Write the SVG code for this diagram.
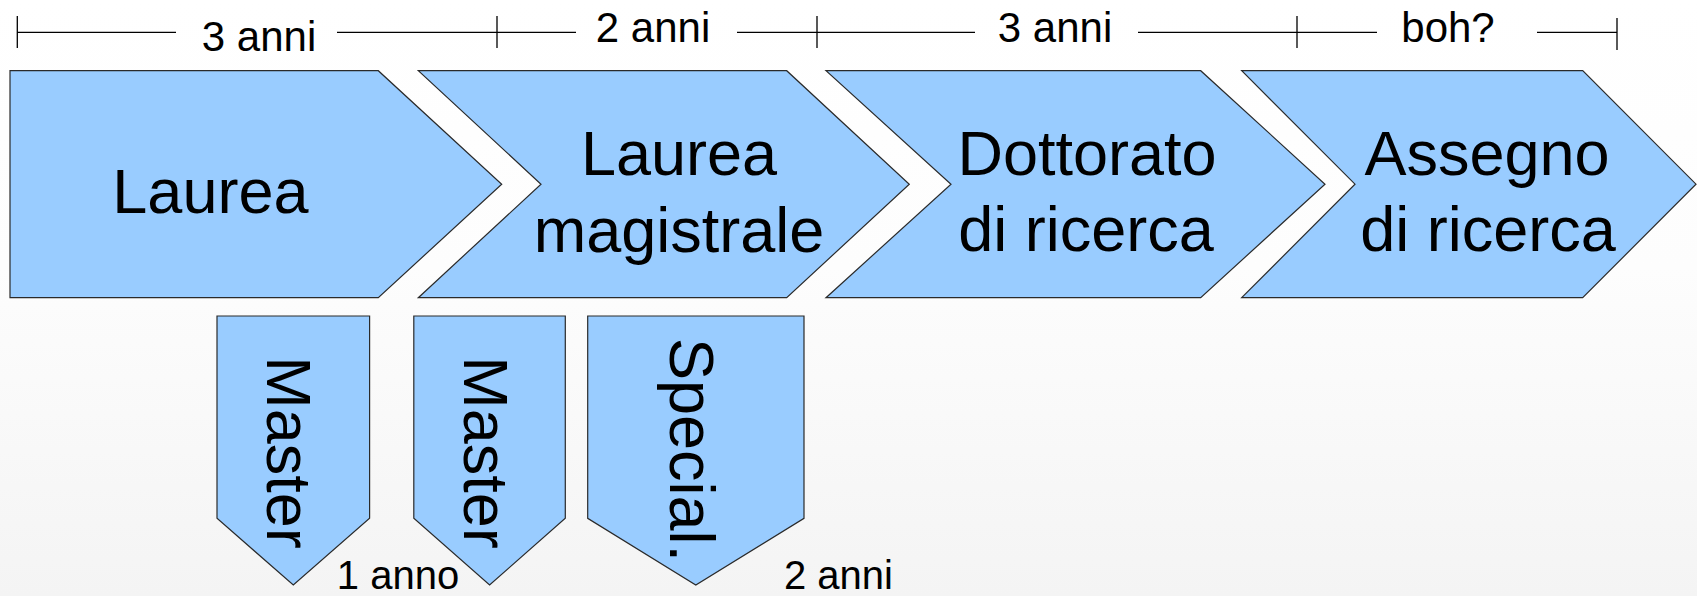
<svg xmlns="http://www.w3.org/2000/svg" width="1697" height="596" viewBox="0 0 1697 596">
<defs>
<linearGradient id="bg" x1="0" y1="0" x2="0" y2="1">
<stop offset="0" stop-color="#ffffff"/>
<stop offset="0.45" stop-color="#fdfdfd"/>
<stop offset="1" stop-color="#f4f4f4"/>
</linearGradient>
</defs>
<style>
.shape{fill:#99ccff;stroke:#2a2a2a;stroke-width:1.2;stroke-linejoin:miter}
.big{font-family:"Liberation Sans",Arial,sans-serif;font-size:63px;fill:#000;text-anchor:middle}
.lbl{font-family:"Liberation Sans",Arial,sans-serif;font-size:42px;fill:#000;text-anchor:middle}
.sm{font-family:"Liberation Sans",Arial,sans-serif;font-size:40px;fill:#000;text-anchor:middle}
.rule{stroke:#000;stroke-width:1.3;fill:none}
</style>
<rect x="0" y="0" width="1697" height="596" fill="url(#bg)"/>
<g id="timeline">
<path class="rule" d="M17.3,32.3H176 M337,32.3H576 M737,32.3H975 M1138,32.3H1377 M1537,32.3H1617 M17.3,16V48 M497,16V48 M817,16V48 M1297,16V48 M1617,18V50"/>
<text class="lbl" x="259" y="50.5">3 anni</text>
<text class="lbl" x="653" y="41.5">2 anni</text>
<text class="lbl" x="1055" y="41.5">3 anni</text>
<text class="lbl" x="1448" y="41.5">boh?</text>
</g>
<g id="laurea">
<polygon class="shape" points="10,70.7 378.3,70.7 501.7,184.2 378.3,297.7 10,297.7"/>
<text class="big" x="210.4" y="213">Laurea</text>
</g>
<g id="laurea-magistrale">
<polygon class="shape" points="418.3,70.7 786.7,70.7 909.3,184.2 786.7,297.7 418.3,297.7 541,184.2"/>
<text class="big" x="679" y="175">Laurea</text>
<text class="big" x="679" y="251.7">magistrale</text>
</g>
<g id="dottorato">
<polygon class="shape" points="826,70.7 1200.7,70.7 1325,184.2 1200.7,297.7 826,297.7 951,184.2"/>
<text class="big" x="1087" y="175">Dottorato</text>
<text class="big" x="1086" y="250.7">di ricerca</text>
</g>
<g id="assegno">
<polygon class="shape" points="1241.7,70.7 1582.7,70.7 1696,184.2 1582.7,297.7 1241.7,297.7 1355,184.2"/>
<text class="big" x="1487" y="175">Assegno</text>
<text class="big" x="1488" y="250.7">di ricerca</text>
</g>
<g id="master1">
<polygon class="shape" points="217,316 369.6,316 369.6,518.3 293.3,585 217,518.3"/>
<text class="big" transform="translate(266.6,452.5) rotate(90)">Master</text>
</g>
<g id="master2">
<polygon class="shape" points="413.8,316 565.3,316 565.3,518.3 489.6,585 413.8,518.3"/>
<text class="big" transform="translate(463.5,452.5) rotate(90)">Master</text>
</g>
<g id="special">
<polygon class="shape" points="587.7,316 804,316 804,518.3 695.8,585 587.7,518.3"/>
<text class="big" transform="translate(669.5,450) rotate(90)">Special.</text>
</g>
<g id="durations">
<text class="sm" x="398" y="589">1 anno</text>
<text class="sm" x="838.5" y="589">2 anni</text>
</g>
<g id="connectors"></g>
</svg>
